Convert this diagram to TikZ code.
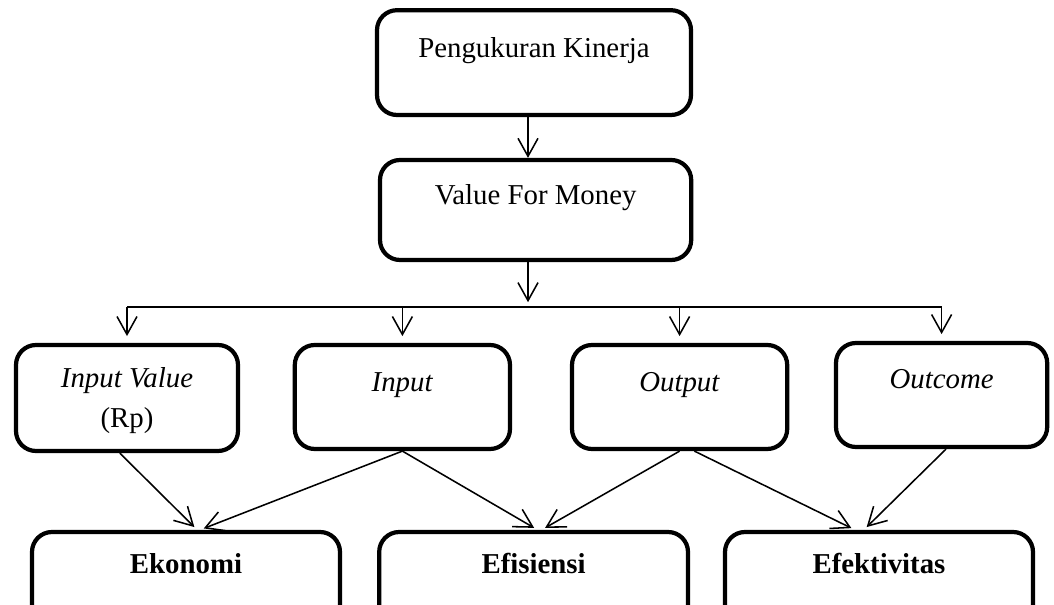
\documentclass[tikz,border=0pt]{standalone}
\usepackage{fontspec}
\setmainfont{Liberation Serif}
\usetikzlibrary{positioning,arrows.meta}

\begin{document}
\begin{tikzpicture}[
	box/.style={draw, line width=3pt, rounded corners=0.5cm, inner sep=0pt},
	txt/.style={font=\fontsize{20.5}{28.5}\selectfont, align=center},
	arr/.style={line width=1.1pt, -{Straight Barb[length=0.45cm,width=0.5cm]}, shorten >=0.1cm}]
	\useasboundingbox (0,0) rectangle (26.35,15.125);
	\clip (0,0) rectangle (26.35,15.125);

	% top row
	\node[box, minimum width=7.85cm, minimum height=2.62cm] (pk) at (13.35,13.56) {};
	\node[txt, below=0.6cm of pk.north] (pkt) {Pengukuran Kinerja};
	\node[box, minimum width=7.78cm, minimum height=2.5cm] (vfm) at (13.39,9.875) {};
	\node[txt, below=0.55cm of vfm.north] (vfmt) {Value For Money};

	% middle row
	\node[box, minimum width=5.55cm, minimum height=2.65cm] (iv) at (3.175,5.175) {};
	\node[txt, below=0.48cm of iv.north] (ivt) {\textit{Input Value}\\(Rp)};
	\node[box, minimum width=5.38cm, minimum height=2.6cm] (in) at (10.06,5.2) {};
	\node[txt, below=0.61cm of in.north] (int) {\textit{Input}};
	\node[box, minimum width=5.38cm, minimum height=2.6cm] (out) at (16.99,5.2) {};
	\node[txt, below=0.61cm of out.north] (outt) {\textit{Output}};
	\node[box, minimum width=5.28cm, minimum height=2.6cm] (oc) at (23.54,5.25) {};
	\node[txt, below=0.58cm of oc.north] (oct) {\textit{Outcome}};

	% bottom row
	\node[box, minimum width=7.7cm, minimum height=2.5cm] (eko) at (4.65,0.575) {};
	\node[txt, below=0.47cm of eko.north] (ekot) {\textbf{Ekonomi}};
	\node[box, minimum width=7.72cm, minimum height=2.5cm] (efi) at (13.34,0.575) {};
	\node[txt, below=0.47cm of efi.north] (efit) {\textbf{Efisiensi}};
	\node[box, minimum width=7.7cm, minimum height=2.5cm] (efe) at (21.975,0.575) {};
	\node[txt, below=0.47cm of efe.north] (efet) {\textbf{Efektivitas}};

	\coordinate (bus) at (13.2,7.45);

	\draw[arr, shorten >=0cm] ([xshift=-0.15cm]pk.south) -- ([xshift=-0.15cm]pk.south |- vfm.north);
	\draw[arr, shorten >=0.12cm] (bus |- vfm.south) -- (bus);
	\draw[line width=1.1pt] (iv.north |- bus) -- (oc.north |- bus);
	\foreach \n in {iv,in,out,oc}
		\draw[arr, shorten >=0.17cm] (\n.north |- bus) -- (\n.north);

	\draw[arr] ([xshift=-0.18cm]iv.south) -- ([xshift=0.28cm]eko.north);
	\draw[arr] (in.south) -- ([xshift=0.35cm]eko.north);
	\draw[arr] (in.south) -- ([xshift=0.1cm]efi.north);
	\draw[arr] (out.south) -- ([xshift=0.2cm]efi.north);
	\draw[arr] ([xshift=0.37cm]out.south) -- ([xshift=-0.6cm]efe.north);
	\draw[arr] ([xshift=0.11cm]oc.south) -- ([xshift=-0.38cm]efe.north);
\end{tikzpicture}
\end{document}
